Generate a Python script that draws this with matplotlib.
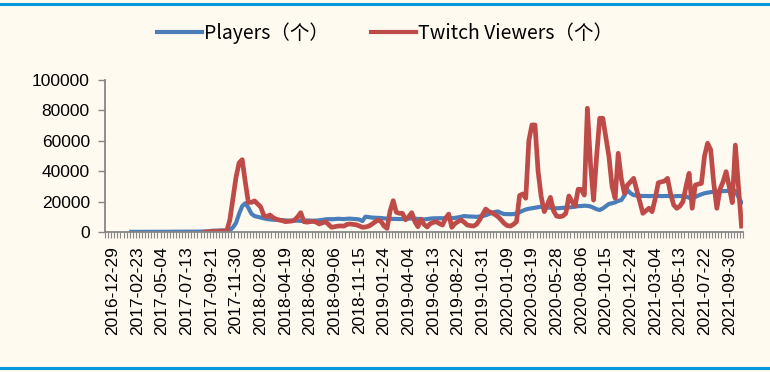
import numpy as np
import matplotlib
matplotlib.use("Agg")
import matplotlib.pyplot as plt
from matplotlib.lines import Line2D

nan = np.nan

# weekly points on a category axis; labels every 8 points
tick_labels = ["2016-12-29", "2017-02-23", "2017-05-04", "2017-07-13", "2017-09-21",
               "2017-11-30", "2018-02-08", "2018-04-19", "2018-06-28", "2018-09-06",
               "2018-11-15", "2019-01-24", "2019-04-04", "2019-06-13", "2019-08-22",
               "2019-10-31", "2020-01-09", "2020-03-19", "2020-05-28", "2020-08-06",
               "2020-10-15", "2020-12-24", "2021-03-04", "2021-05-13", "2021-07-22",
               "2021-09-30"]

players = [
    nan, nan, nan, nan, nan, nan, nan, nan, 100, 100,
    100, 100, 100, 100, 100, 150, 150, 150, 150, 150,
    150, 200, 200, 200, 200, 200, 200, 250, 250, 250,
    250, 300, 300, 300, 800, 900, 900, 1000, 1000, 1000,
    1200, 3000, 6000, 12000, 17000, 18900, 16000, 12000, 10500, 10000,
    9500, 9000, 8600, 8300, 8100, 8000, 7900, 7800, 7600, 7500,
    7400, 7400, 7500, 7300, 7400, 7600, 7500, 7400, 7500, 7700,
    8000, 8300, 8500, 8400, 8500, 8700, 8600, 8500, 8700, 8800,
    8600, 8500, 8200, 7200, 10100, 9800, 9500, 9400, 9300, 9200,
    9000, 8800, 8700, 8600, 8600, 8500, 8600, 8700, 8800, 8900,
    8800, 8600, 8400, 8300, 8500, 8800, 9000, 9000, 9100, 9000,
    9200, 9000, 9100, 9300, 9600, 10000, 10500, 10300, 10200, 10100,
    10000, 10200, 10500, 11000, 11800, 12500, 13200, 13500, 12500, 11800,
    11800, 11700, 11800, 12200, 13000, 14000, 14800, 15300, 15600, 16000,
    16300, 16700, 16500, 16200, 16000, 15800, 15600, 15700, 15900, 16000,
    16200, 16400, 16700, 17000, 17100, 17300, 17200, 16800, 16000, 15000,
    14500, 15500, 17000, 18500, 18900, 19500, 20500, 21000, 24000, 27600,
    25500, 24300, 24000, 23800, 23700, 23700, 23600, 23700, 23800, 23700,
    23600, 23700, 23700, 23600, 23500, 23600, 23700, 23600, 23400, 22500,
    22300, 23000, 24000, 24800, 25500, 25900, 26200, 26500, 26700, 26800,
    26900, 27000, 27100, 27200, 27000, 23000, 19300,
]

twitch = [
    nan, nan, nan, nan, nan, nan, nan, nan, nan, nan,
    nan, nan, nan, nan, nan, nan, nan, nan, nan, nan,
    nan, nan, nan, nan, nan, nan, nan, nan, nan, nan,
    nan, nan, 0, 200, 300, 400, 500, 600, 700, 800,
    8000, 22000, 36000, 45500, 47600, 33000, 19500, 19500, 20500, 18500,
    16500, 11000, 10000, 11200, 9500, 8500, 7900, 7500, 6800, 7000,
    7200, 7900, 10000, 12700, 6800, 6500, 6800, 7000, 6500, 5300,
    6000, 6800, 5000, 3100, 3500, 3900, 4000, 3900, 5000, 5300,
    5000, 4800, 4000, 3100, 3300, 3800, 5000, 6500, 7900, 7000,
    4000, 2400, 14000, 20600, 13000, 12300, 12300, 8000, 10000, 12700,
    7000, 3500, 8500, 5000, 3300, 5500, 6300, 6800, 5500, 4600,
    9000, 11800, 3100, 5500, 6800, 7900, 6500, 4600, 4200, 3900,
    5000, 7900, 11500, 15100, 13500, 12700, 11500, 10100, 8000, 5700,
    4200, 3900, 5000, 6800, 24000, 25000, 22200, 60000, 70400, 70400,
    40000, 23300, 13400, 18000, 22800, 14000, 10500, 10100, 10500, 12300,
    23700, 20000, 17100, 28100, 28000, 24300, 81400, 45000, 21000, 50000,
    74800, 74800, 62000, 49500, 30000, 22200, 51800, 35000, 25500, 30900,
    33000, 35300, 27600, 20000, 12300, 14000, 15600, 13400, 22000, 32400,
    33000, 33500, 35300, 25000, 17800, 15600, 17000, 20000, 30000, 38600,
    15600, 30900, 31500, 32000, 50000, 58400, 54000, 32000, 15600, 28000,
    33000, 39700, 30000, 19300, 57200, 30000, 3900,
]

n = len(players)
x = np.arange(n)
label_pos = np.arange(len(tick_labels)) * 8 + 2

bg = "#FFFAF0"
fig = plt.figure(figsize=(7.7, 3.72), dpi=100, facecolor=bg)
ax = fig.add_axes([0.1364, 0.3763, 0.8286, 0.4087])
ax.set_facecolor(bg)

ax.plot(x, players, color="#4A7EBB", lw=3.0, label="Players（个）", solid_joinstyle="round")
ax.plot(x, twitch, color="#BE4B48", lw=3.4, label="Twitch Viewers（个）", solid_joinstyle="round")

ax.set_xlim(-0.5, n - 0.5)
ax.set_ylim(0, 100000)
ax.set_yticks(range(0, 100001, 20000))
ax.set_yticklabels([str(v) for v in range(0, 100001, 20000)],
                   fontsize=12.5, family="Liberation Sans")
ax.set_xticks(label_pos)
ax.set_xticklabels(tick_labels, rotation=90, fontsize=12.5, family="Liberation Sans")
ax.set_xticks(np.arange(n + 1) - 0.5, minor=True)
ax.tick_params(axis="x", which="major", length=0, pad=10)
ax.tick_params(axis="x", which="minor", length=4, width=0.8, color="#868686")
ax.tick_params(axis="y", length=5, width=1, color="#868686", pad=6)

for s in ["top", "right"]:
    ax.spines[s].set_visible(False)
for s in ["left", "bottom"]:
    ax.spines[s].set_color("#868686")
    ax.spines[s].set_linewidth(1.3)

leg = fig.legend(loc="center", bbox_to_anchor=(0.5, 0.911), ncol=2, frameon=False,
                 prop={"family": ["Noto Sans CJK SC", "DejaVu Sans"], "size": 14},
                 handlelength=2.3, handletextpad=0.1, columnspacing=2.2)
for h in leg.legend_handles:
    h.set_linewidth(3.0)

# blue rules at top and bottom of the figure
fig.add_artist(Line2D([0, 1], [0.988, 0.988], color="#0099DD", lw=2.2))
fig.add_artist(Line2D([0, 1], [0.011, 0.011], color="#0099DD", lw=2.2))

fig.savefig("out.png", dpi=100, facecolor=bg)
